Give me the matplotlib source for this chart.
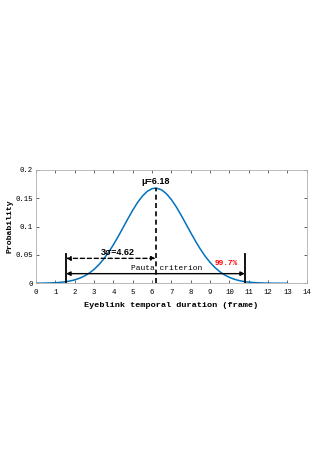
import numpy as np
import matplotlib
matplotlib.use("Agg")
import matplotlib.pyplot as plt

# values
frames = [0, 0.25, 0.5, 0.75, 1, 1.25, 1.5, 1.75, 2, 2.25, 2.5, 2.75, 3,
          3.25, 3.5, 3.75, 4, 4.25, 4.5, 4.75, 5, 5.25, 5.5, 5.75, 6, 6.18,
          6.25, 6.5, 6.75, 7, 7.25, 7.5, 7.75, 8, 8.25, 8.5, 8.75, 9, 9.25,
          9.5, 9.75, 10, 10.25, 10.5, 10.75, 11, 11.25, 11.5, 11.75, 12,
          12.25, 12.5, 12.75, 13]
prob = [0.0001, 0.0002, 0.0004, 0.0006, 0.0010, 0.0016, 0.0026, 0.0040,
        0.0060, 0.0089, 0.0127, 0.0179, 0.0245, 0.0327, 0.0428, 0.0545,
        0.0679, 0.0826, 0.0981, 0.1138, 0.1289, 0.1425, 0.1538, 0.1622,
        0.1670, 0.1680, 0.1678, 0.1648, 0.1579, 0.1478, 0.1351, 0.1205,
        0.1050, 0.0894, 0.0743, 0.0603, 0.0477, 0.0369, 0.0279, 0.0206,
        0.0148, 0.0104, 0.0072, 0.0048, 0.0031, 0.0020, 0.0013, 0.0008,
        0.0005, 0.0003, 0.0001, 0.0001, 0.0, 0.0]
mu = 6.18
three_sigma = 4.62
lower = mu - three_sigma
upper = mu + three_sigma
xticks = list(range(0, 15))
yticks = [0, 0.05, 0.1, 0.15, 0.2]
ytick_labels = ["0", "0.05", "0.1", "0.15", "0.2"]

mono = "Liberation Mono"
sans = "Liberation Sans"

fig = plt.figure(figsize=(3.31, 4.68), dpi=100)
ax = fig.add_axes([0.1088, 0.3947, 0.8178, 0.2421])

ax.plot(frames, prob, color=(0, 0.447, 0.741), lw=1.1)

# bounds of the 3 sigma interval
ax.plot([lower, lower], [0, 0.051], color="black", lw=1.3)
ax.plot([upper, upper], [0, 0.051], color="black", lw=1.3)
# mean line
ax.plot([mu, mu], [0, 0.168], color="black", lw=1.2, ls=(0, (3, 2)))

# arrows
ax.annotate("", xy=(lower, 0.044), xytext=(mu, 0.044),
            arrowprops=dict(arrowstyle="<|-|>", color="black", lw=1.0,
                            ls=(0, (3, 2)), mutation_scale=6,
                            shrinkA=0, shrinkB=0))
ax.annotate("", xy=(lower, 0.017), xytext=(upper, 0.017),
            arrowprops=dict(arrowstyle="<|-|>", color="black", lw=1.0,
                            mutation_scale=6, shrinkA=0, shrinkB=0))

ax.text(mu, 0.171, "\u03bc=6.18", fontsize=6.5, fontweight="bold",
        family=sans, ha="center", va="bottom")
ax.text(4.22, 0.047, "3\u03c3=4.62", fontsize=6.5, fontweight="bold",
        family=sans, ha="center", va="bottom")
ax.text(6.75, 0.020, "Pauta criterion", fontsize=5.7, family=mono,
        ha="center", va="bottom")
ax.text(9.85, 0.029, "99.7%", fontsize=5.6, fontweight="bold", family=mono,
        color="red", ha="center", va="bottom")

ax.set_xlim(0, 14)
ax.set_ylim(0, 0.2)
ax.set_xticks(xticks)
ax.set_yticks(yticks)
ax.set_yticklabels(ytick_labels)
ax.tick_params(direction="in", length=2.5, width=0.5, labelsize=5.3,
               top=True, right=True, color="#262626")
ax.tick_params(axis="x", pad=4)
ax.tick_params(axis="y", pad=2.5)
for lab in ax.get_xticklabels() + ax.get_yticklabels():
    lab.set_family(mono)
for sp in ax.spines.values():
    sp.set_color("#b0b0b0")
    sp.set_linewidth(0.6)

ax.set_xlabel("Eyeblink temporal duration (frame)", family=mono,
              fontweight="bold", fontsize=6.1, labelpad=4.5)
ax.set_ylabel("Probability", family=mono, fontweight="bold", fontsize=5.9)
ax.yaxis.set_label_coords(-0.085, 0.5)

fig.savefig("out.png", dpi=100)
